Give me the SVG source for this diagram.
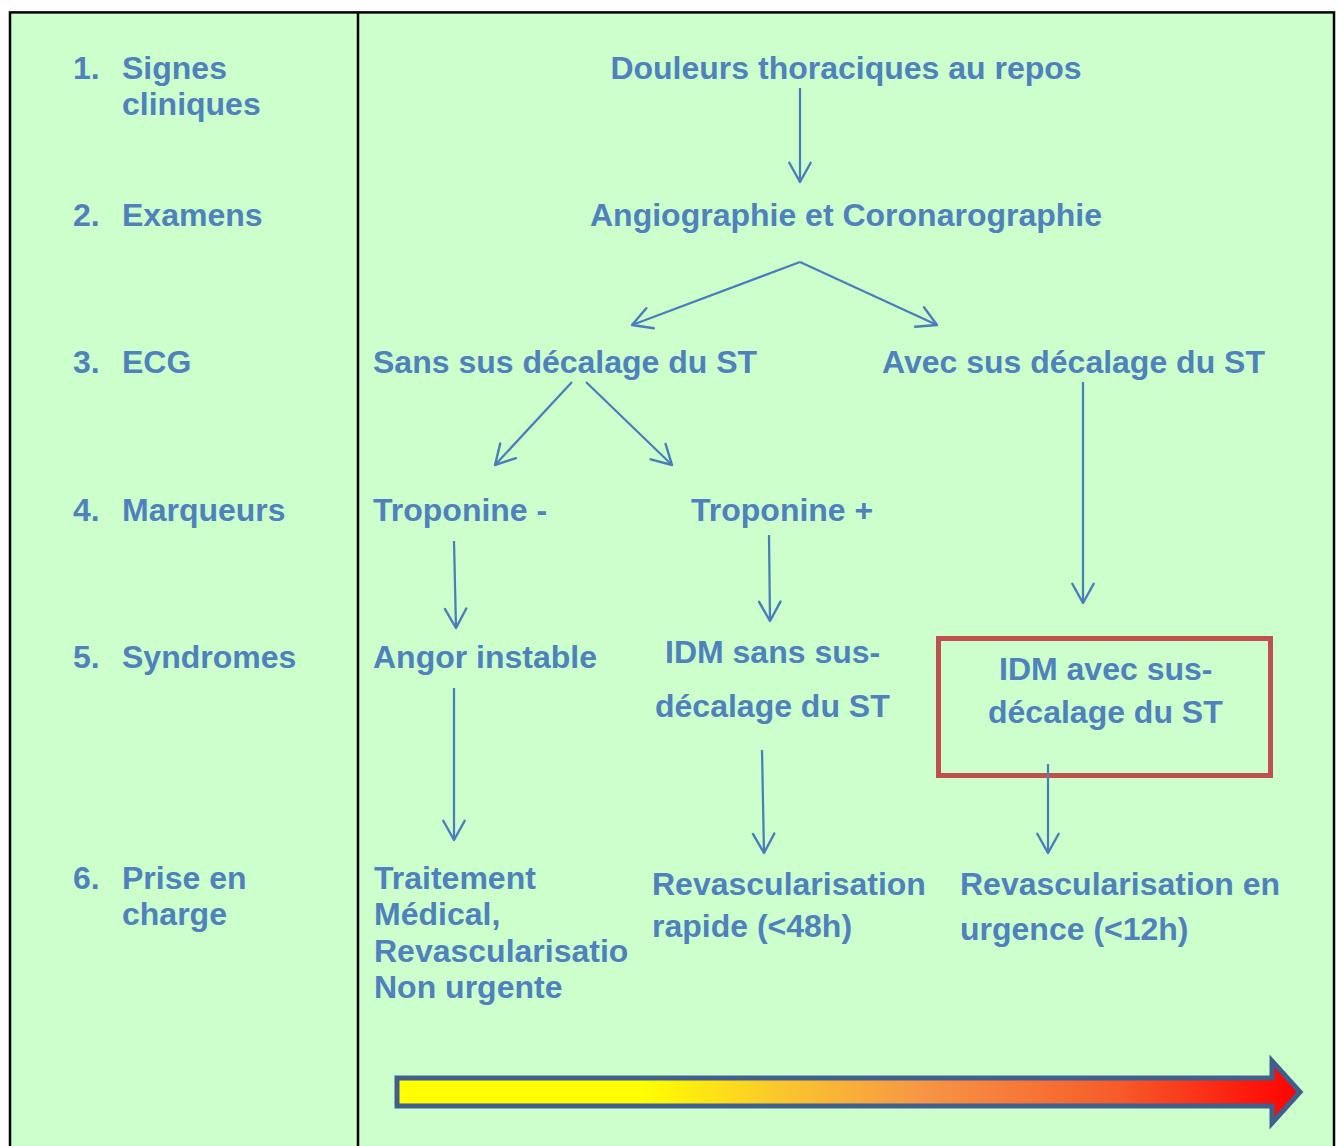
<svg xmlns="http://www.w3.org/2000/svg" width="1338" height="1146" viewBox="0 0 1338 1146">
<style>
.t{font-family:"Liberation Sans",Arial,sans-serif;font-weight:bold;font-size:32px;fill:#4F81BD}
.c{stroke:#4A7EBB;stroke-width:2.25;fill:none}
</style>
<defs>
<marker id="ah" markerUnits="userSpaceOnUse" markerWidth="30" markerHeight="30" viewBox="-22 -14 26 28" refX="0" refY="0" orient="auto">
<path d="M-18,-10 L0,0 L-18,10" fill="none" stroke="#4A7EBB" stroke-width="2.25" stroke-linejoin="round" stroke-linecap="round"/>
</marker>
<linearGradient id="grad" x1="397" y1="0" x2="1301" y2="0" gradientUnits="userSpaceOnUse">
<stop offset="0" stop-color="#FFFF00"/>
<stop offset="0.27" stop-color="#FFFF00"/>
<stop offset="0.42" stop-color="#FAC82C"/>
<stop offset="0.58" stop-color="#F79646"/>
<stop offset="0.8" stop-color="#F65A2A"/>
<stop offset="1" stop-color="#FF0000"/>
</linearGradient>
<clipPath id="clipTrt"><rect x="360" y="850" width="269" height="170"/></clipPath>
</defs>
<rect x="0" y="0" width="1338" height="1146" fill="#FFFFFF"/>
<g id="frame">
<rect x="10" y="12.4" width="1324" height="1150" fill="#CCFFCC" stroke="#000" stroke-width="2.5"/>
<line x1="358" y1="12" x2="358" y2="1146" stroke="#000" stroke-width="2.5"/>
</g>
<g id="row-labels">
<g id="row1"><text class="t" x="73" y="79">1.</text><text class="t" x="122" y="79">Signes</text><text class="t" x="122" y="115">cliniques</text></g>
<g id="row2"><text class="t" x="73" y="226">2.</text><text class="t" x="122" y="226">Examens</text></g>
<g id="row3"><text class="t" x="73" y="373">3.</text><text class="t" x="122" y="373">ECG</text></g>
<g id="row4"><text class="t" x="73" y="521">4.</text><text class="t" x="122" y="521">Marqueurs</text></g>
<g id="row5"><text class="t" x="73" y="668">5.</text><text class="t" x="122" y="668">Syndromes</text></g>
<g id="row6"><text class="t" x="73" y="889">6.</text><text class="t" x="122" y="889">Prise en</text><text class="t" x="122" y="925">charge</text></g>
</g>
<g id="n-douleurs"><text class="t" x="846" y="79" text-anchor="middle">Douleurs thoraciques au repos</text></g>
<g id="n-angio"><text class="t" x="846" y="226" text-anchor="middle">Angiographie et Coronarographie</text></g>
<g id="n-sans"><text class="t" x="373" y="373">Sans sus décalage du ST</text></g>
<g id="n-avec"><text class="t" x="882" y="373">Avec sus décalage du ST</text></g>
<g id="n-tropmoins"><text class="t" x="373" y="521">Troponine -</text></g>
<g id="n-tropplus"><text class="t" x="691" y="521">Troponine +</text></g>
<g id="n-angor"><text class="t" x="373" y="668">Angor instable</text></g>
<g id="n-idmsans"><text class="t" x="665" y="663">IDM sans sus-</text><text class="t" x="655" y="717">décalage du ST</text></g>
<g id="n-idmavec">
<rect x="938.5" y="638.5" width="332" height="137" fill="none" stroke="#C0504D" stroke-width="5"/>
<text class="t" x="999" y="680">IDM avec sus-</text><text class="t" x="988" y="723">décalage du ST</text>
</g>
<g id="n-traitement" clip-path="url(#clipTrt)">
<text class="t" x="374" y="889">Traitement</text>
<text class="t" x="374" y="925">Médical,</text>
<text class="t" x="374" y="962">Revascularisation</text>
<text class="t" x="374" y="998">Non urgente</text>
</g>
<g id="n-revrapide"><text class="t" x="652" y="895">Revascularisation</text><text class="t" x="652" y="937">rapide (&lt;48h)</text></g>
<g id="n-revurg"><text class="t" x="960" y="895">Revascularisation en</text><text class="t" x="960" y="940">urgence (&lt;12h)</text></g>
<g id="connectors">
<line class="c" x1="800" y1="88" x2="800" y2="182" marker-end="url(#ah)"/>
<line class="c" x1="800" y1="262" x2="632" y2="325" marker-end="url(#ah)"/>
<line class="c" x1="800" y1="262" x2="937" y2="325" marker-end="url(#ah)"/>
<line class="c" x1="572" y1="382" x2="495" y2="465" marker-end="url(#ah)"/>
<line class="c" x1="586" y1="382" x2="672" y2="465" marker-end="url(#ah)"/>
<line class="c" x1="1083" y1="382" x2="1083" y2="603" marker-end="url(#ah)"/>
<line class="c" x1="454" y1="541" x2="456" y2="628" marker-end="url(#ah)"/>
<line class="c" x1="769" y1="535" x2="770" y2="621" marker-end="url(#ah)"/>
<line class="c" x1="454" y1="688" x2="454" y2="840" marker-end="url(#ah)"/>
<line class="c" x1="762" y1="750" x2="764" y2="853" marker-end="url(#ah)"/>
<line class="c" x1="1048" y1="764" x2="1048" y2="853" marker-end="url(#ah)"/>
</g>
<g id="progress-arrow">
<polygon points="397,1078 1272,1078 1272,1061 1300,1092 1272,1123 1272,1106 397,1106" fill="url(#grad)" stroke="#3F5F8C" stroke-width="5"/>
</g>
</svg>
